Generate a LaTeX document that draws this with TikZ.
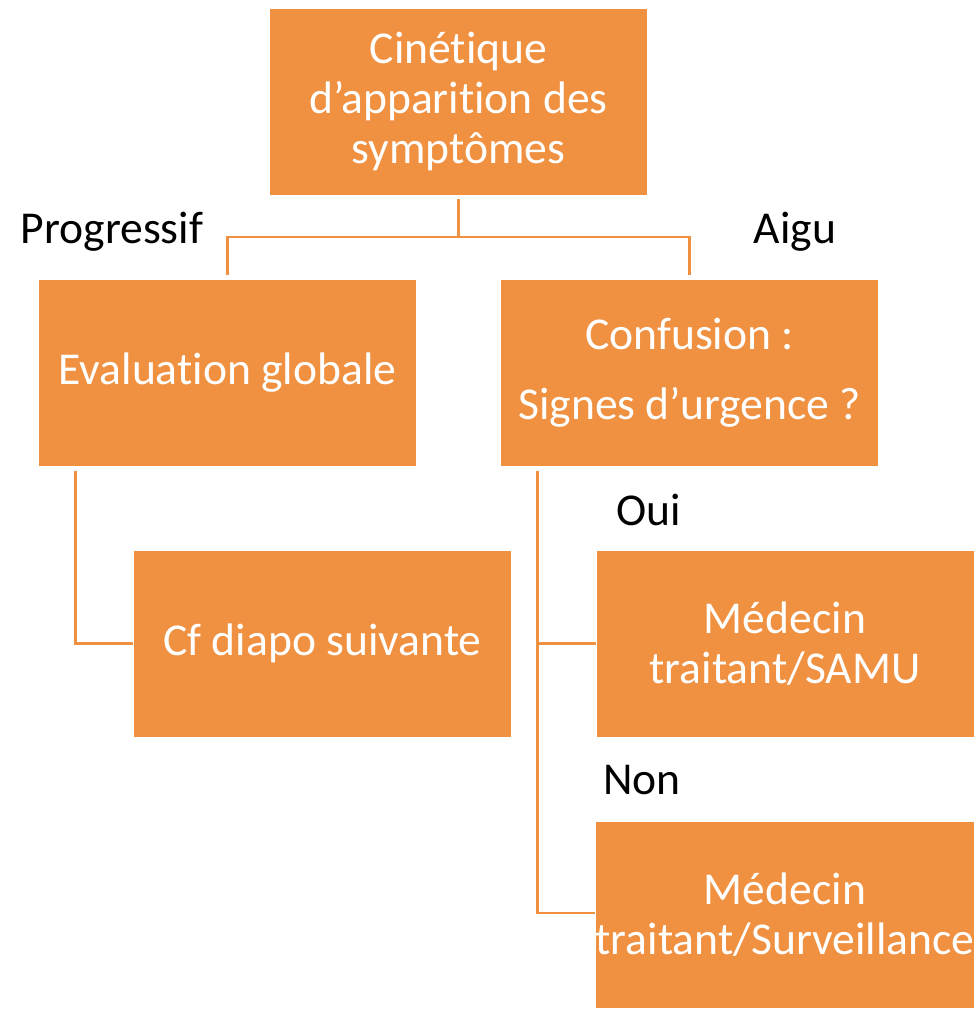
\documentclass[tikz,border=0pt]{standalone}
\usepackage{fontspec}
\setmainfont{Carlito}[RawFeature={-liga;-clig;-calt;-dlig}]
\usepackage{xcolor}
\usepackage{tikz}
\usetikzlibrary{positioning}
\definecolor{boxorange}{HTML}{F09142}
\newcommand{\nolig}{\kern0pt}
\tikzset{
  stepbox/.style={fill=boxorange,draw=white,line width=0.4pt,text=white,
    minimum width=283.5pt,minimum height=140.5pt,align=center,inner sep=0pt,
    font=\fontsize{34.2}{37.5}\selectfont},
  branchlabel/.style={font=\fontsize{34.2}{37.5}\selectfont,text=black,inner sep=0pt},
  link/.style={draw=boxorange,line width=2.2pt}
}

\begin{document}
\begin{tikzpicture}[x=0.75pt,y=-0.75pt]
  \useasboundingbox (0,0) rectangle (979,1009);
  % Nodes
  \node[stepbox] (kin) at (458.5,101.5) {Cin\'et\nolig ique\\d\textquoteright appari\nolig t\nolig ion des\\sympt\^omes};
  \node[stepbox] (eval) at (227.5,373) {Evaluat\nolig ion globale};
  \node[stepbox] (conf) at (689.5,373) {Confusion :\\[15pt]Signes d\textquoteright urgence ?};
  \node[stepbox] (diapo) at (322.5,643.5) {Cf diapo suivante};
  \node[stepbox] (samu) at (785,643.5) {M\'edecin\\traitant/SAMU};
  \node[stepbox] (surv) at (785,915) {M\'edecin\\traitant/Surveillance};

  % Branch labels
  \node[branchlabel] (prog) at (112,232) {Progressif};
  \node[branchlabel] (aigu) at (795,232) {Aigu};
  \node[branchlabel] (oui) at (649,510) {Oui};
  \node[branchlabel] (non) at (642,780) {Non};

  % Connectors
  \coordinate (split) at (458.5,237);
  \draw[link] ([yshift=-3pt]kin.south) -- (split);
  \draw[link] (split) -| ([yshift=3pt]eval.north);
  \draw[link] (split) -| ([yshift=3pt]conf.north);
  \draw[link] ([xshift=27.75pt,yshift=-3pt]eval.south west) |- (diapo.west);
  \draw[link] ([xshift=27.75pt,yshift=-3pt]conf.south west) |- (samu.west);
  \draw[link] ([xshift=27.75pt,yshift=-3pt]conf.south west) |- ([yshift=1.5pt]surv.west);
\end{tikzpicture}
\end{document}
